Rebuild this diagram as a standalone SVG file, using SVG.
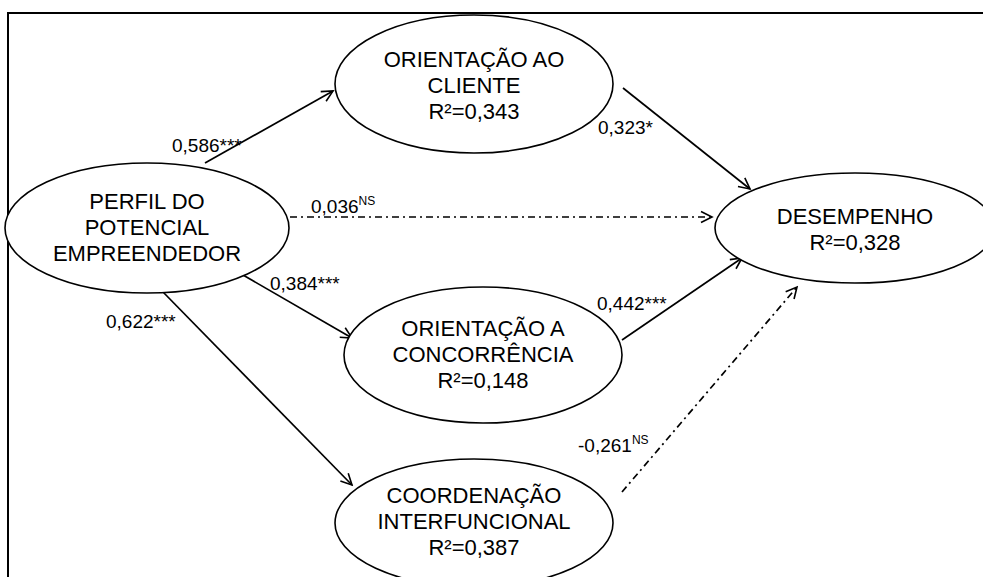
<svg xmlns="http://www.w3.org/2000/svg" width="983" height="577" viewBox="0 0 983 577">
<defs>
<marker id="ah" markerUnits="userSpaceOnUse" markerWidth="14" markerHeight="14" refX="12" refY="6" orient="auto" viewBox="0 0 14 12">
<path d="M1,0.5 L12,6 L1,11.5" fill="none" stroke="#000" stroke-width="1.6"/>
</marker>
<style>
.n{fill:#fff;stroke:#000;stroke-width:1.6}
.t{font-family:"Liberation Sans",Arial,sans-serif;font-size:22px;fill:#000;text-anchor:middle}
.l{font-family:"Liberation Sans",Arial,sans-serif;font-size:19px;fill:#000}
.sup{font-size:12px}
.c{stroke:#000;stroke-width:1.7;fill:none;marker-end:url(#ah)}
.d{stroke-dasharray:7 4 2 4}
</style>
</defs>
<rect width="983" height="577" fill="#fff"/>
<rect x="8" y="13" width="1000" height="620" fill="none" stroke="#000" stroke-width="2"/>
<g id="connectors">
<line class="c" x1="205" y1="163" x2="333" y2="91"/>
<line class="c d" x1="290" y1="217" x2="712" y2="217"/>
<line class="c" x1="243" y1="275" x2="352" y2="338"/>
<line class="c" x1="163" y1="292" x2="352" y2="485"/>
<line class="c" x1="623" y1="88" x2="750" y2="189"/>
<line class="c" x1="622" y1="340" x2="742" y2="258"/>
<line class="c d" x1="622" y1="492" x2="797" y2="287"/>
<text class="l" x="172" y="152">0,586***</text>
<text class="l" x="311" y="213">0,036<tspan class="sup" dy="-8">NS</tspan></text>
<text class="l" x="270" y="290">0,384***</text>
<text class="l" x="106" y="328">0,622***</text>
<text class="l" x="598" y="134">0,323*</text>
<text class="l" x="597" y="310">0,442***</text>
<text class="l" x="578" y="452">-0,261<tspan class="sup" dy="-8">NS</tspan></text>
</g>
<g id="cliente">
<ellipse class="n" cx="474" cy="84" rx="139" ry="69"/>
<text class="t" x="474" y="67">ORIENTAÇÃO AO</text>
<text class="t" x="474" y="93">CLIENTE</text>
<text class="t" x="474" y="119">R²=0,343</text>
</g>
<g id="perfil">
<ellipse class="n" cx="147" cy="228" rx="142" ry="65"/>
<text class="t" x="147" y="209">PERFIL DO</text>
<text class="t" x="147" y="235">POTENCIAL</text>
<text class="t" x="147" y="261">EMPREENDEDOR</text>
</g>
<g id="desempenho">
<ellipse class="n" cx="855" cy="228" rx="140" ry="55"/>
<text class="t" x="855" y="224">DESEMPENHO</text>
<text class="t" x="855" y="250">R²=0,328</text>
</g>
<g id="concorrencia">
<ellipse class="n" cx="483" cy="355" rx="139" ry="68"/>
<text class="t" x="483" y="336">ORIENTAÇÃO A</text>
<text class="t" x="483" y="362">CONCORRÊNCIA</text>
<text class="t" x="483" y="388">R²=0,148</text>
</g>
<g id="coordenacao">
<ellipse class="n" cx="474" cy="523" rx="139" ry="64"/>
<text class="t" x="474" y="503">COORDENAÇÃO</text>
<text class="t" x="474" y="529">INTERFUNCIONAL</text>
<text class="t" x="474" y="555">R²=0,387</text>
</g>
</svg>
